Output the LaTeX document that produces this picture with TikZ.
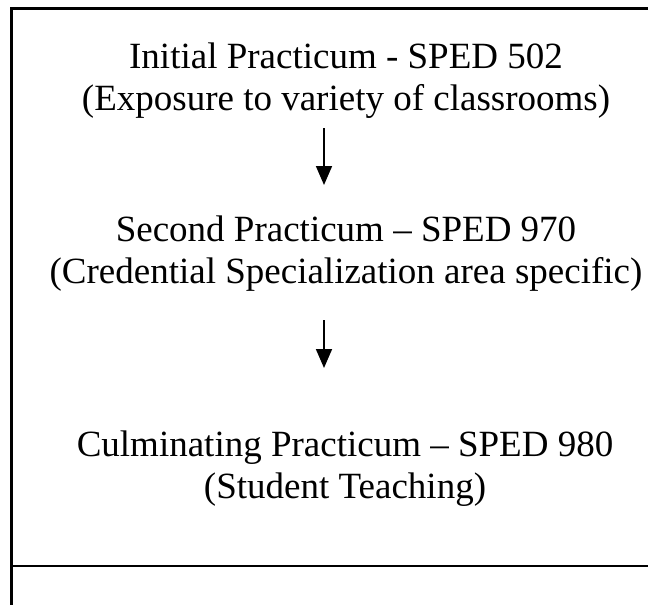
\documentclass[tikz,border=0pt]{standalone}
\usepackage{fontspec}
\setmainfont{Liberation Serif}
\usetikzlibrary{arrows.meta}
\begin{document}
\begin{tikzpicture}[x=1pt,y=-1pt,
  frame/.style={line width=2.2pt,line cap=rect},
  lbl/.style={anchor=base,inner sep=0pt,font=\fontsize{37}{42}\selectfont},
  arr/.style={line width=1.7pt,-{Triangle[length=19pt,width=16pt]}}]
\useasboundingbox (0,0) rectangle (648,605);
\fill[white] (0,0) rectangle (648,605);
% frame
\coordinate (tl) at (11.5,8.5);
\coordinate (tr) at (648,8.5);
\coordinate (bl) at (11.5,605);
\coordinate (ml) at (11.5,566);
\coordinate (mr) at (648,566);
\draw[frame] (tr) -- (tl) -- (bl);
\draw[frame] (ml) -- (mr);
% texts
\node[lbl] (l1a) at (346,68) {Initial Practicum - SPED 502};
\node[lbl] (l1b) at (346,110) {(Exposure to variety of classrooms)};
\node[lbl] (l2a) at (346,241) {Second Practicum – SPED 970};
\node[lbl] (l2b) at (346,283) {(Credential Specialization area specific)};
\node[lbl] (l3a) at (345,456) {Culminating Practicum – SPED 980};
\node[lbl] (l3b) at (345,498) {(Student Teaching)};
% arrows
\coordinate (a1s) at (324,128);
\coordinate (a1e) at (324,185);
\coordinate (a2s) at (324,320);
\coordinate (a2e) at (324,368);
\draw[arr] (a1s) -- (a1e);
\draw[arr] (a2s) -- (a2e);
\end{tikzpicture}
\end{document}
